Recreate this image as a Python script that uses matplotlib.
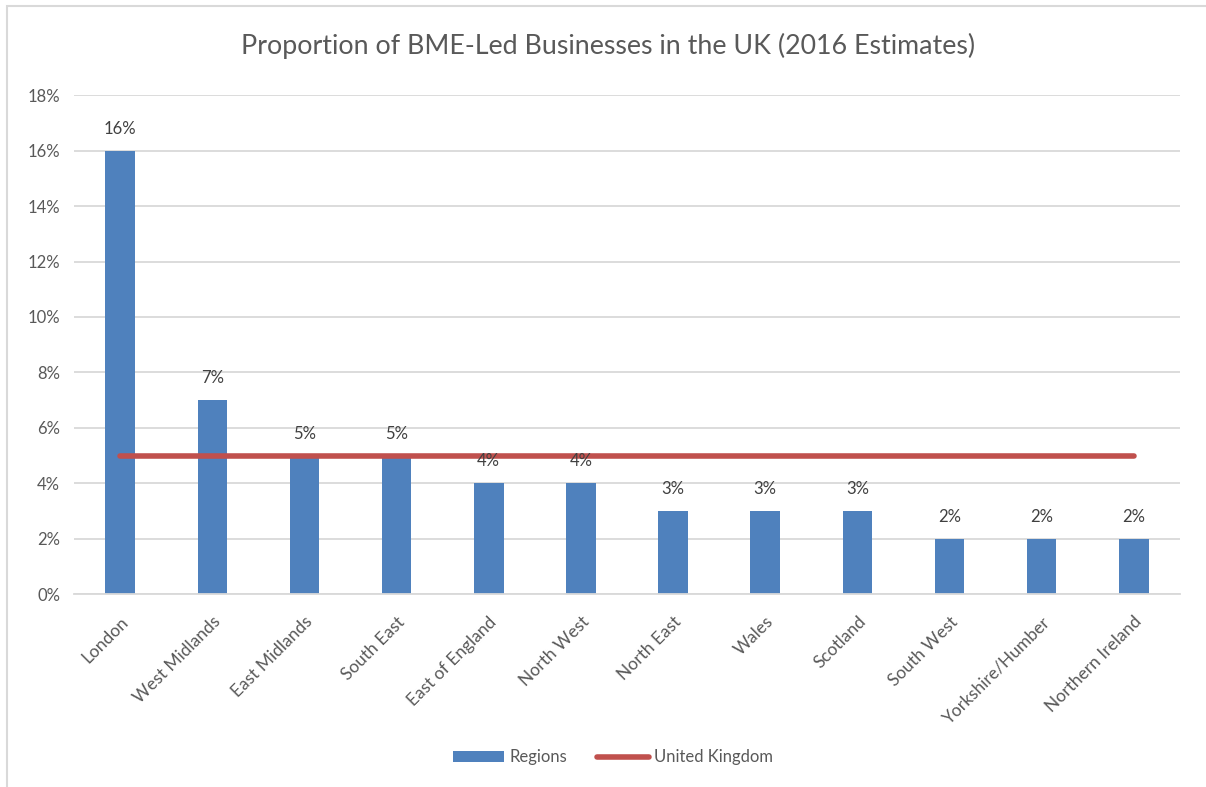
import matplotlib.pyplot as plt
from matplotlib.patches import Rectangle
from matplotlib.ticker import FuncFormatter, MultipleLocator

regions = ["London", "West Midlands", "East Midlands", "South East", "East of England",
           "North West", "North East", "Wales", "Scotland", "South West",
           "Yorkshire/Humber", "Northern Ireland"]
region_share = [16, 7, 5, 5, 4, 4, 3, 3, 3, 2, 2, 2]
uk_share = [5] * len(regions)

TEXT = "#595959"
plt.rcParams["font.family"] = ["Lato", "DejaVu Sans"]

fig = plt.figure(figsize=(12.06, 7.87), dpi=100)
ax = fig.add_axes([0.0614, 0.245, 0.917, 0.634])

x = list(range(len(regions)))
bars = ax.bar(x, region_share, width=0.32, color="#4F81BD", zorder=2, label="Regions")
line, = ax.plot(x, uk_share, color="#C0504D", lw=4, solid_capstyle="round", zorder=3,
                label="United Kingdom")

for xi, v in zip(x, region_share):
    ax.text(xi, v + 0.5, f"{v}%", ha="center", va="bottom", fontsize=12, color="#404040")

ax.set_xlim(-0.5, len(regions) - 0.5)
ax.set_ylim(0, 18)
ax.yaxis.set_major_locator(MultipleLocator(2))
ax.yaxis.set_major_formatter(FuncFormatter(lambda v, _: f"{v:.0f}%"))
ax.grid(axis="y", color="#D9D9D9", lw=1.3, zorder=0)
for s in ["top", "right", "left"]:
    ax.spines[s].set_visible(False)
ax.spines["bottom"].set_color("#D9D9D9")
ax.spines["bottom"].set_linewidth(1.3)
ax.tick_params(axis="y", length=0, labelsize=12, colors=TEXT, pad=10)
ax.set_xticks(x)
ax.set_xticklabels(regions, rotation=45, ha="right", rotation_mode="anchor")
ax.tick_params(axis="x", length=0, labelsize=12.5, colors=TEXT, pad=14)

fig.text(0.504, 0.942, "Proportion of BME-Led Businesses in the UK (2016 Estimates)",
         ha="center", va="center", fontsize=19.3, color=TEXT)

leg = fig.legend([bars, line], ["Regions", "United Kingdom"], loc="center",
                 bbox_to_anchor=(0.508, 0.038), ncol=2, frameon=False,
                 fontsize=12, handlelength=3.1, handleheight=0.6,
                 columnspacing=1.8, handletextpad=0.3)
for t in leg.get_texts():
    t.set_color(TEXT)

fig.patches.append(Rectangle((7 / 1206, -0.1), 1.2, 1 - 6 / 787 + 0.1,
                             transform=fig.transFigure, fill=False,
                             edgecolor="#D9D9D9", lw=1.5))

fig.savefig("out.png", dpi=100)
